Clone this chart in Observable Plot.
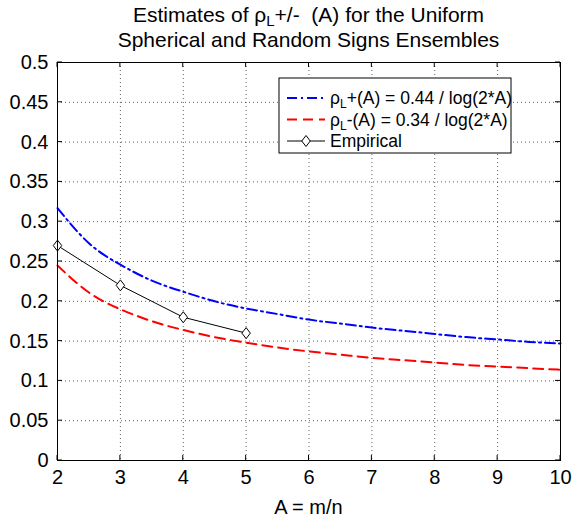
<!DOCTYPE html>
<html><head><meta charset="utf-8">
<script src="https://cdn.jsdelivr.net/npm/d3@7"></script>
<script src="https://cdn.jsdelivr.net/npm/@observablehq/plot@0.6"></script>
<style>body{margin:0;background:#fff} svg{display:block}</style>
</head><body><div id="chart"></div>
<script>
// ---- data ----
const aValues = [2, 2.5, 3, 3.5, 4, 4.5, 5, 5.5, 6, 6.5, 7, 7.5, 8, 8.5, 9, 9.5, 10];
const rhoPlus = [0.317, 0.273, 0.246, 0.226, 0.212, 0.200, 0.191, 0.184, 0.177, 0.172, 0.167, 0.163, 0.159, 0.155, 0.152, 0.149, 0.147];
const rhoMinus = [0.245, 0.211, 0.190, 0.175, 0.164, 0.155, 0.148, 0.142, 0.137, 0.133, 0.129, 0.126, 0.123, 0.120, 0.118, 0.116, 0.114];
const empA = [2, 3, 4, 5];
const empRho = [0.27, 0.22, 0.18, 0.16];
const xTicks = [2, 3, 4, 5, 6, 7, 8, 9, 10];
const yTicks = [0, 0.05, 0.1, 0.15, 0.2, 0.25, 0.3, 0.35, 0.4, 0.45, 0.5];
const yTickLabels = ["0", "0.05", "0.1", "0.15", "0.2", "0.25", "0.3", "0.35", "0.4", "0.45", "0.5"];
const titleLine1 = ["Estimates of ρ", "L", "+/-  (A) for the Uniform"];
const titleLine2 = "Spherical and Random Signs Ensembles";
const xLabel = "A = m/n";
const legendItems = [
  {pre: "ρ", sub: "L", post: "+(A) = 0.44 / log(2*A)", color: "#0000ff", dash: "10,4,2,4", width: 2, marker: false},
  {pre: "ρ", sub: "L", post: "-(A) = 0.34 / log(2*A)", color: "#ff0000", dash: "10,6", width: 2, marker: false},
  {pre: "Empirical", sub: "", post: "", color: "#000000", dash: null, width: 1, marker: true}
];

// ---- build ----
const W = 572, H = 522, mL = 57, mR = 12, mT = 62, mB = 62;
const FONT = "'Liberation Sans', Arial, Helvetica, sans-serif";
const plus = aValues.map((a, i) => ({a, v: rhoPlus[i]}));
const minus = aValues.map((a, i) => ({a, v: rhoMinus[i]}));
const emp = empA.map((a, i) => ({a, v: empRho[i]}));

const diamond = {
  draw(ctx, size) {
    const r = Math.sqrt(size / Math.PI);
    ctx.moveTo(0, -r * 1.1);
    ctx.lineTo(r * 0.85, 0);
    ctx.lineTo(0, r * 1.1);
    ctx.lineTo(-r * 0.85, 0);
    ctx.closePath();
  }
};

const gridStyle = {stroke: "#333", strokeOpacity: 1, strokeWidth: 0.8, strokeDasharray: "1,3"};

const plot = Plot.plot({
  width: W, height: H,
  marginLeft: mL, marginRight: mR, marginTop: mT, marginBottom: mB,
  style: {fontFamily: FONT, fontSize: "20px", background: "#fff", color: "#000"},
  x: {domain: [2, 10]},
  y: {domain: [0, 0.5]},
  marks: [
    Plot.gridX(xTicks, gridStyle),
    Plot.gridY(yTicks, gridStyle),
    Plot.axisX(xTicks, {tickSize: 0, tickPadding: 9, label: null, tickFormat: d => String(d), fontSize: 20}),
    Plot.axisY(yTicks, {tickSize: 0, tickPadding: 9, label: null, tickFormat: d => yTickLabels[yTicks.indexOf(d)], fontSize: 20}),
    Plot.line(plus, {x: "a", y: "v", stroke: "#0000ff", strokeWidth: 2, strokeDasharray: "10,4,2,4", curve: "natural"}),
    Plot.line(minus, {x: "a", y: "v", stroke: "#ff0000", strokeWidth: 2, strokeDasharray: "10,6", curve: "natural"}),
    Plot.line(emp, {x: "a", y: "v", stroke: "#000", strokeWidth: 1}),
    Plot.dot(emp, {x: "a", y: "v", symbol: diamond, r: 5, stroke: "#000", fill: "#fff", strokeWidth: 1}),
    Plot.frame({stroke: "#000", strokeWidth: 1})
  ]
});

document.getElementById("chart").appendChild(plot);
const svg = d3.select(plot);
const xs = plot.scale("x"), ys = plot.scale("y");
const x0 = mL, x1 = W - mR, y0 = mT, y1 = H - mB;

// inward ticks on all four sides (MATLAB style)
const tg = svg.append("g").attr("stroke", "#000").attr("stroke-width", 1);
xTicks.forEach(t => {
  const x = xs.apply(t);
  tg.append("line").attr("x1", x).attr("x2", x).attr("y1", y1).attr("y2", y1 - 5);
  tg.append("line").attr("x1", x).attr("x2", x).attr("y1", y0).attr("y2", y0 + 5);
});
yTicks.forEach(t => {
  const y = ys.apply(t);
  tg.append("line").attr("x1", x0).attr("x2", x0 + 5).attr("y1", y).attr("y2", y);
  tg.append("line").attr("x1", x1).attr("x2", x1 - 5).attr("y1", y).attr("y2", y);
});

// title
const cx = (x0 + x1) / 2;
const t1 = svg.append("text").attr("x", cx).attr("y", 22).attr("text-anchor", "middle")
  .attr("font-family", FONT).attr("font-size", 21).attr("fill", "#000");
t1.append("tspan").text(titleLine1[0]);
t1.append("tspan").attr("font-size", 15).attr("dy", 4).text(titleLine1[1]);
t1.append("tspan").attr("dy", -4).text(titleLine1[2]);
svg.append("text").attr("x", cx).attr("y", 47).attr("text-anchor", "middle")
  .attr("font-family", FONT).attr("font-size", 21).attr("fill", "#000").text(titleLine2);

// x label
svg.append("text").attr("x", cx).attr("y", 514).attr("text-anchor", "middle")
  .attr("font-family", FONT).attr("font-size", 20).attr("fill", "#000").text(xLabel);

// legend
const lg = svg.append("g");
lg.append("rect").attr("x", 279).attr("y", 78).attr("width", 232).attr("height", 75)
  .attr("fill", "#fff").attr("stroke", "#000").attr("stroke-width", 1);
legendItems.forEach((it, i) => {
  const y = 98 + i * 21.5;
  const ln = lg.append("line").attr("x1", 287).attr("x2", 325).attr("y1", y).attr("y2", y)
    .attr("stroke", it.color).attr("stroke-width", it.width);
  if (it.dash) ln.attr("stroke-dasharray", it.dash);
  if (it.marker) {
    lg.append("path").attr("d", "M306,-5.5L310.25,0L306,5.5L301.75,0Z").attr("transform", `translate(0,${y})`)
      .attr("fill", "#fff").attr("stroke", "#000");
  }
  const tx = lg.append("text").attr("x", 330).attr("y", y + 6).attr("text-anchor", "start")
    .attr("font-family", FONT).attr("font-size", 17.5).attr("fill", "#000");
  tx.append("tspan").text(it.pre);
  if (it.sub) {
    tx.append("tspan").attr("font-size", 12).attr("dy", 4).text(it.sub);
    tx.append("tspan").attr("dy", -4).text(it.post);
  }
});
</script>
</body></html>
